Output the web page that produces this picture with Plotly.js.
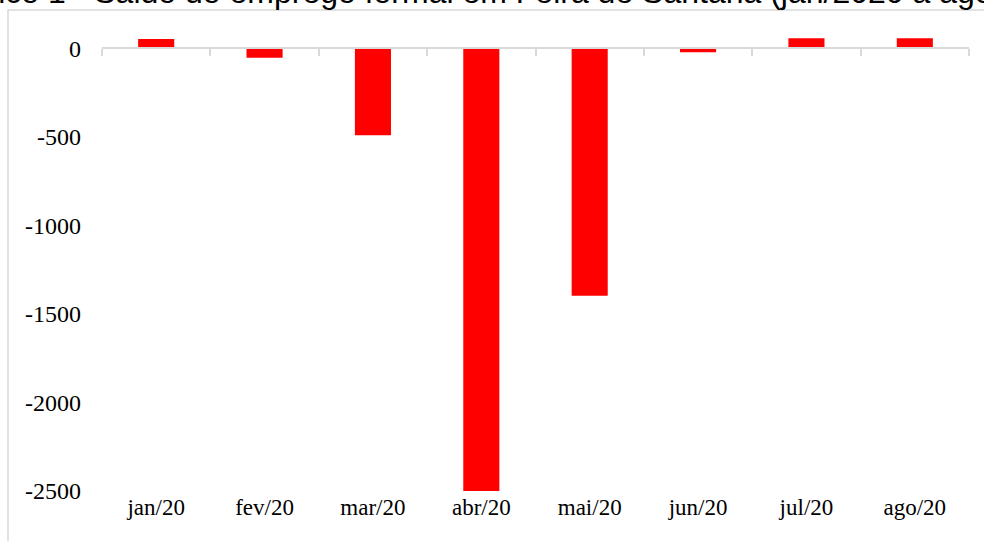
<!DOCTYPE html>
<html>
<head>
<meta charset="utf-8">
<script src="https://cdn.plot.ly/plotly-3.0.1.min.js"></script>
<style>html,body{margin:0;padding:0;background:#fff;}#chart{width:984px;height:541px;}</style>
</head>
<body>
<div id="chart"></div>
<script>
const months = ["jan/20","fev/20","mar/20","abr/20","mai/20","jun/20","jul/20","ago/20"];
const saldo = [52, -55, -492, -2500, -1398, -24, 56, 56];
const yTicks = [0, -500, -1000, -1500, -2000, -2500];
const titleText = "Gráfico 1 - Saldo do emprego formal em Feira de Santana (jan/2020 a ago/2020)";

const W = 984, H = 541;
const M = {l: 102, r: 15, t: 18, b: 50};
const yMin = -2500, yMax = 170;
const plotW = W - M.l - M.r, plotH = H - M.t - M.b;
const zeroPos = (0 - yMin) / (yMax - yMin);

const traces = [
  {type: "bar", x: months, y: saldo, marker: {color: "#ff0000"}, hoverinfo: "x+y", xaxis: "x", yaxis: "y"},
  {type: "scatter", mode: "none", x: months, y: saldo, xaxis: "x2", yaxis: "y", hoverinfo: "skip", showlegend: false}
];

const layout = {
  width: W, height: H,
  margin: M,
  paper_bgcolor: "#ffffff", plot_bgcolor: "#ffffff",
  showlegend: false,
  bargap: 0.667,
  xaxis: {
    type: "category", showgrid: false, zeroline: false, showline: false, ticks: "",
    tickfont: {family: "Liberation Serif, Times New Roman, serif", size: 23, color: "#000"},
    fixedrange: true
  },
  xaxis2: {
    type: "category", overlaying: "x", matches: "x", anchor: "free", position: zeroPos, side: "bottom",
    showgrid: false, zeroline: false, showline: true, linecolor: "#d9d9d9", linewidth: 2,
    ticks: "outside", tickson: "boundaries", ticklen: 7, tickcolor: "#d9d9d9", tickwidth: 2,
    showticklabels: false
  },
  yaxis: {
    range: [yMin, yMax], tickvals: yTicks, ticktext: yTicks.map(String),
    showgrid: false, zeroline: false, showline: false, ticks: "",
    ticklabelstandoff: 20,
    tickfont: {family: "Liberation Serif, Times New Roman, serif", size: 24, color: "#000"},
    fixedrange: true
  },
  shapes: [{
    type: "rect", xref: "paper", yref: "paper",
    x0: (8 - M.l) / plotW, x1: (W + 20 - M.l) / plotW,
    y0: -(H + 20 - M.t - plotH) / plotH, y1: 1 + (M.t - 10) / plotH,
    line: {color: "#d9d9d9", width: 1.5}, fillcolor: "rgba(0,0,0,0)", layer: "below"
  }],
  annotations: [{
    text: titleText, xref: "paper", yref: "paper",
    x: (509 - M.l) / plotW, y: 1 + (M.t - 12) / plotH,
    xanchor: "center", yanchor: "bottom", showarrow: false,
    font: {family: "Liberation Sans, Arial, sans-serif", size: 32, color: "#000"}
  }]
};

Plotly.newPlot("chart", traces, layout, {displayModeBar: false, staticPlot: true});
</script>
</body>
</html>
